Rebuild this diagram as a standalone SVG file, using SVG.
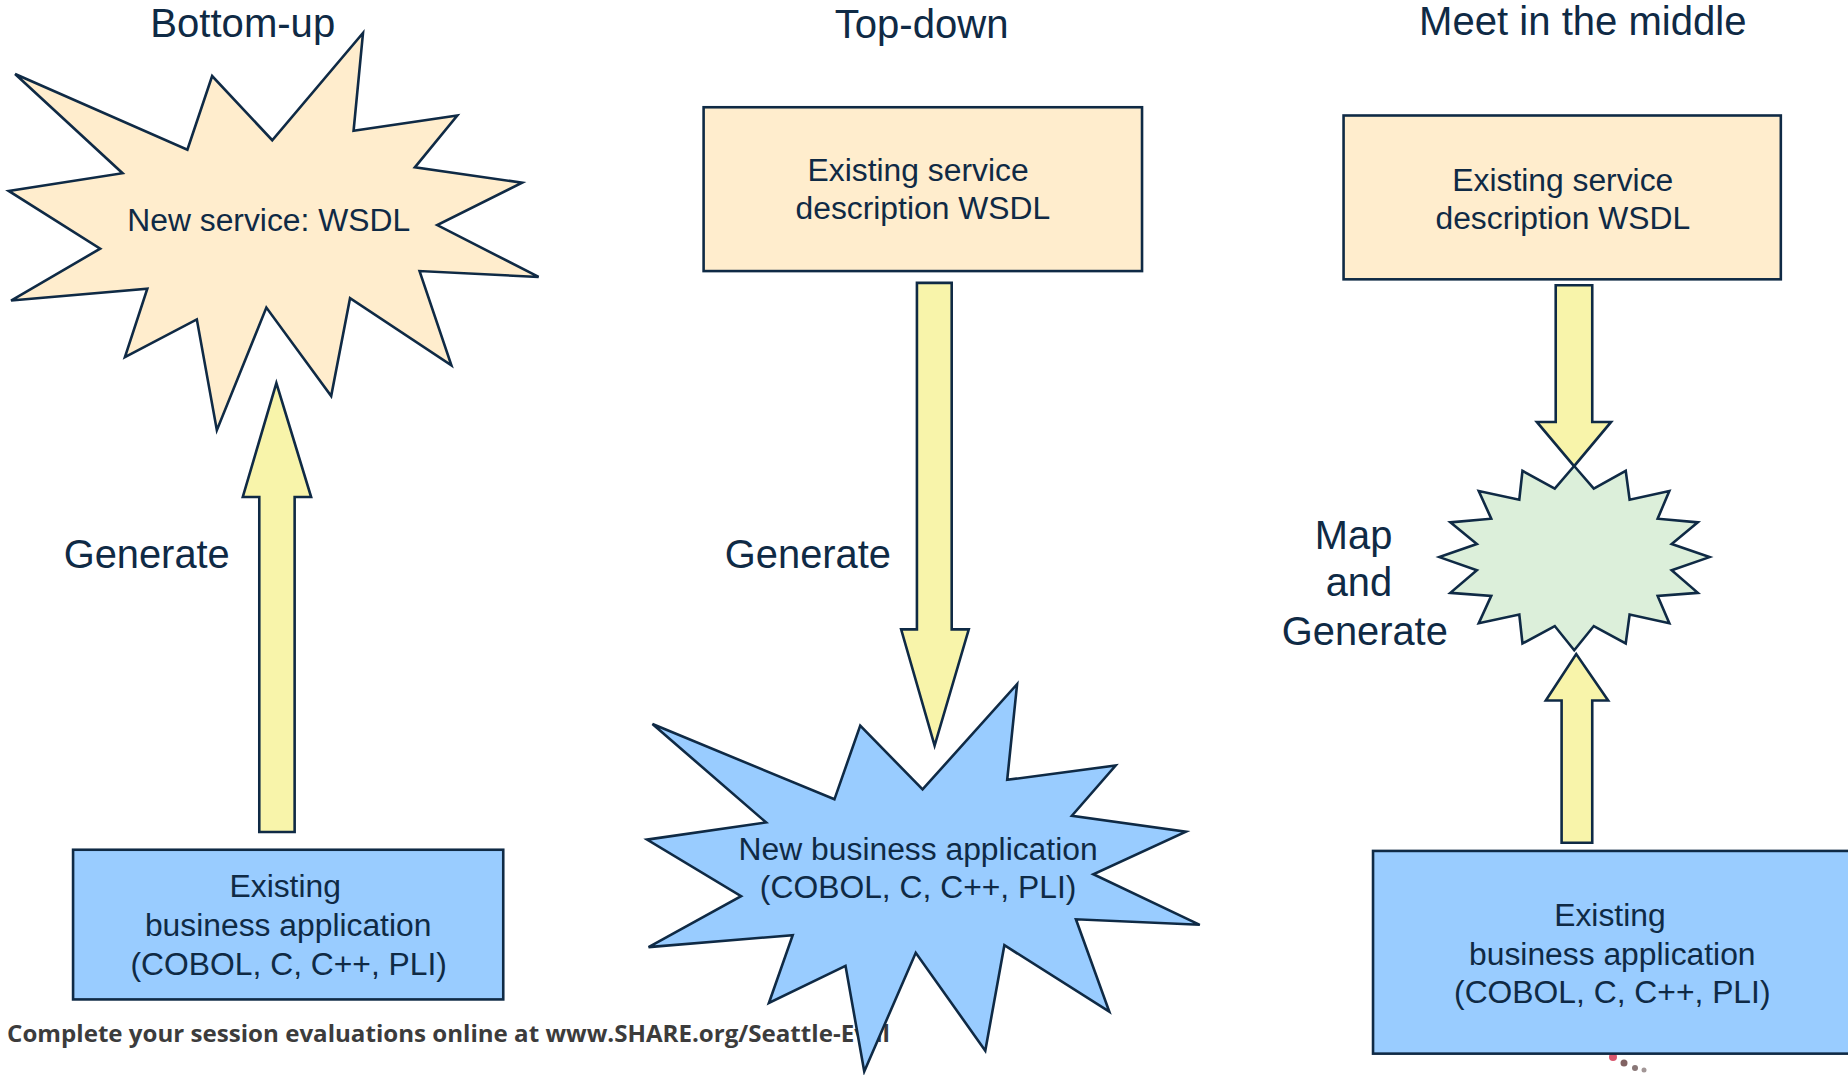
<svg xmlns="http://www.w3.org/2000/svg" width="1848" height="1075" viewBox="0 0 1848 1075">
<style>
.bg{fill:#ffffff}
.beige{fill:#FFEDCD;stroke:#0F2A45;stroke-width:2.2;stroke-linejoin:miter}
.blue{fill:#99CCFF;stroke:#0F2A45;stroke-width:2.2;stroke-linejoin:miter}
.green{fill:#DCEFDA;stroke:#0F2A45;stroke-width:2.2;stroke-linejoin:miter}
.arrow{fill:#F8F4AA;stroke:#0F2A45;stroke-width:2.2;stroke-linejoin:miter}
.t{font-family:"Liberation Sans",Arial,sans-serif;fill:#0F2A45;text-anchor:middle}
.title{font-size:34px}
.lbl{font-size:27px}
.gen{font-size:33.8px}
.foot{font-family:"Open Sans","DejaVu Sans",sans-serif;font-weight:bold;font-size:20px;fill:#3c3c3c}
</style>
<rect class="bg" x="0" y="0" width="1848" height="1075"/>
<g id="footer-dots">
<circle cx="1613" cy="1057" r="4" fill="#d23a55" opacity="0.85"/>
<circle cx="1624" cy="1063" r="3.5" fill="#6b4646" opacity="0.85"/>
<circle cx="1635" cy="1068" r="3" fill="#6b5555" opacity="0.8"/>
<circle cx="1644" cy="1070" r="2.5" fill="#7a6a6a" opacity="0.7"/>
</g>
<g transform="scale(1.17857)">
<g id="footer">
<text class="foot" x="6" y="884" textLength="749" lengthAdjust="spacingAndGlyphs">Complete your session evaluations online at www.SHARE.org/Seattle-Eval</text>
</g>
<g id="titles">
<text class="t title" x="206" y="31">Bottom-up</text>
<text class="t title" x="782" y="32">Top-down</text>
<text class="t title" x="1343" y="30">Meet in the middle</text>
</g>
<g id="new-service-wsdl">
<polygon class="beige" points="12.8,62.8 159,127 180,64.5 231,119 308,28 300,111 388,98 352,142 443,155 371,191 457,235 356,230 383,310 297,253 281,336 226,261 184,365 167,271 106,303 125,245 9.4,255 85,211 7.4,162 104,147"/>
<text class="t lbl" x="228" y="196">New service: WSDL</text>
</g>
<g id="existing-app-left">
<rect class="blue" x="62" y="721" width="365" height="127"/>
<text class="t lbl" x="242" y="761">Existing</text>
<text class="t lbl" x="244.5" y="794">business application</text>
<text class="t lbl" x="245" y="827">(COBOL, C, C++, PLI)</text>
</g>
<g id="existing-wsdl-center">
<rect class="beige" x="597" y="91" width="372" height="139"/>
<text class="t lbl" x="779" y="154">Existing service</text>
<text class="t lbl" x="783" y="186">description WSDL</text>
</g>
<g id="new-business-app">
<polygon class="blue" points="553.6,614.3 708,678.2 729.9,615.7 782.8,669.8 863,580.5 854.6,661.7 946.6,649.5 909.5,692.1 1006.2,705.6 927.7,741.8 1018,784.7 912.9,780 941.2,858.4 852.2,802 836,891.5 777,808.4 733.3,909.1 717.4,819.5 652.4,851 672.6,793.5 550.3,803.6 628.8,760.4 549,712.4 650,697.8"/>
<text class="t lbl" x="779" y="730">New business application</text>
<text class="t lbl" x="779" y="762">(COBOL, C, C++, PLI)</text>
</g>
<g id="existing-wsdl-right">
<rect class="beige" x="1140" y="98" width="371" height="139"/>
<text class="t lbl" x="1326" y="162">Existing service</text>
<text class="t lbl" x="1326" y="194">description WSDL</text>
</g>
<g id="existing-app-right">
<rect class="blue" x="1165" y="722" width="420" height="172"/>
<text class="t lbl" x="1366" y="786">Existing</text>
<text class="t lbl" x="1368" y="819">business application</text>
<text class="t lbl" x="1368" y="851">(COBOL, C, C++, PLI)</text>
</g>
<g id="connectors">
<polygon class="arrow" points="220,706 220,421.7 206,421.7 234.5,325 264,421.7 250,421.7 250,706"/>
<polygon class="arrow" points="778,240 807.5,240 807.5,534 822,534 793,632.6 764.6,534 778,534"/>
<polygon class="arrow" points="1320,242 1351,242 1351,358 1367,358 1335.6,395.5 1304,358 1320,358"/>
<polygon class="arrow" points="1325,715 1325,594.4 1311.6,594.4 1337.4,555 1364.5,594.4 1351,594.4 1351,715"/>
</g>
<g id="map-generate">
<polygon class="green" points="1335.7,395.4 1352.3,414.6 1379.4,399.5 1382.7,424 1416.4,416.6 1406.5,440.1 1440.6,443.2 1418.4,461.6 1450.5,472.7 1418.4,483.8 1440.6,503 1406.5,505.6 1416.4,528.8 1382.7,521.4 1379.4,546 1352.3,531.2 1335.7,551.7 1319.2,531.2 1291.8,546 1289.1,521.4 1254.7,528.8 1265.3,505.6 1230.6,503 1253.1,483.8 1221.3,472.7 1253.1,461.6 1230.6,443.2 1265.3,440.1 1254.7,416.6 1289.1,424 1291.8,399.5 1319.2,414.6"/>
</g>
<g id="labels">
<text class="t gen" x="124.5" y="482">Generate</text>
<text class="t gen" x="685.5" y="482">Generate</text>
<text class="t gen" x="1148.5" y="466">Map</text>
<text class="t gen" x="1153" y="506">and</text>
<text class="t gen" x="1158" y="547">Generate</text>
</g>
</g>
</svg>
